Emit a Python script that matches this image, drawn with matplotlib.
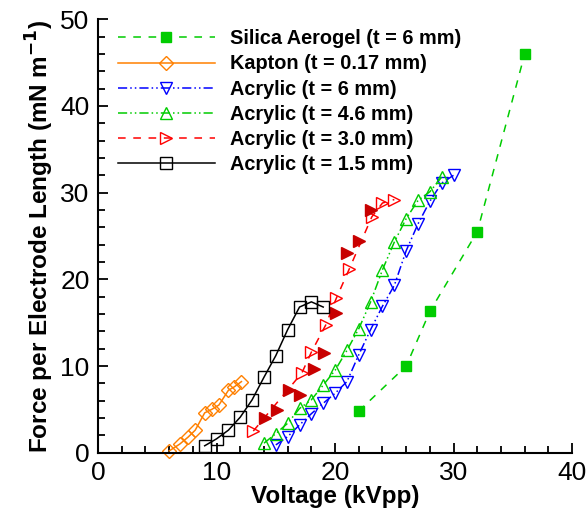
#!/usr/bin/env python3
"""
Force per electrode length vs. applied voltage for several dielectric barriers.
"""

import matplotlib
matplotlib.use('Agg')
import matplotlib.pyplot as plt
from matplotlib.ticker import MultipleLocator

plt.rcParams['font.family'] = ['Liberation Sans', 'DejaVu Sans']

# Silica aerogel (t = 6 mm)
silica_v = [22, 26, 28, 32, 36]
silica_f = [4.8, 10.0, 16.3, 25.5, 46.0]

# Kapton (t = 0.17 mm)
kapton_v = [6.0, 6.9, 7.6, 8.2, 9.0, 9.6, 10.2, 11.0, 11.5, 12.1]
kapton_f = [0.2, 1.0, 1.8, 2.6, 4.6, 5.0, 5.5, 7.2, 7.6, 8.2]

# Acrylic (t = 6 mm)
acr6_v = [15, 16, 17, 18, 19, 20, 21, 22, 23, 24, 25, 26, 27, 28, 29, 30]
acr6_f = [0.9, 1.85, 3.2, 4.5, 5.7, 6.85, 8.2, 11.3, 14.2, 16.9, 19.3, 23.3, 26.4, 29.0, 31.1, 32.0]

# Acrylic (t = 4.6 mm)
acr46_v = [14, 15, 16, 17, 18, 19, 20, 21, 22, 23, 24, 25, 26, 27, 28, 29]
acr46_f = [1.1, 2.2, 3.4, 5.1, 6.1, 7.8, 9.5, 11.8, 14.3, 17.4, 21.1, 24.3, 27.0, 29.1, 30.1, 31.8]

# Acrylic (t = 3.0 mm), open markers
acr3_v = [13.1, 17.2, 18.0, 19.2, 20.1, 21.2, 23.1, 24.0, 25.0]
acr3_f = [2.5, 9.2, 11.6, 14.7, 17.8, 21.2, 27.2, 28.8, 29.2]

# Acrylic (t = 3.0 mm), second run (filled markers, not in legend)
acr3b_v = [14.1, 15.1, 16.1, 17.0, 18.2, 19.1, 20.1, 21.0, 22.0, 23.0]
acr3b_f = [4.0, 4.9, 7.2, 6.6, 9.7, 11.5, 16.1, 23.0, 24.4, 28.0]

# Acrylic (t = 1.5 mm)
acr15_v = [9, 10, 11, 12, 13, 14, 15, 16, 17, 18, 19]
acr15_f = [0.8, 1.6, 2.6, 4.1, 6.1, 8.7, 11.2, 14.2, 16.8, 17.4, 16.8]

labels = ['Silica Aerogel (t = 6 mm)', 'Kapton (t = 0.17 mm)', 'Acrylic (t = 6 mm)',
          'Acrylic (t = 4.6 mm)', 'Acrylic (t = 3.0 mm)', 'Acrylic (t = 1.5 mm)']

green = '#00cc00'
orange = '#ff8000'
blue = '#0000ff'
red = '#ff0000'
dkred = '#c80000'
dashdotdot = (0, (6, 2, 1, 2, 1, 2))

fig = plt.figure(figsize=(5.88, 5.23), dpi=100)
ax = fig.add_axes([0.1667, 0.1344, 0.8063, 0.8289])

common = dict(clip_on=False, lw=1.1, mew=1.0)

ax.plot(silica_v, silica_f, ls=(0, (5, 5)), color=green, marker='s', ms=7,
        mfc=green, mec=green, label=labels[0], **common)
ax.plot(kapton_v, kapton_f, ls='-', color=orange, marker='D', ms=7,
        mfc='none', mec=orange, label=labels[1], **common)
ax.plot(acr6_v, acr6_f, ls=dashdotdot, color=blue, marker='v', ms=8.5,
        mfc='none', mec=blue, label=labels[2], **common)
ax.plot(acr46_v, acr46_f, ls=dashdotdot, color=green, marker='^', ms=8.5,
        mfc='none', mec=green, label=labels[3], **common)
ax.plot(acr3_v, acr3_f, ls=(0, (5, 5)), color=red, marker='>', ms=8.5,
        mfc='none', mec=red, label=labels[4], **common)
ax.plot(acr3b_v, acr3b_f, ls='none', color=dkred, marker='>', ms=8,
        mfc=dkred, mec=dkred, clip_on=False)
ax.plot(acr15_v, acr15_f, ls='-', color='black', marker='s', ms=8,
        mfc='none', mec='black', label=labels[5], **common)

ax.set_xlim(0, 40)
ax.set_ylim(0, 50)
ax.xaxis.set_major_locator(MultipleLocator(10))
ax.xaxis.set_minor_locator(MultipleLocator(2))
ax.yaxis.set_major_locator(MultipleLocator(10))
ax.yaxis.set_minor_locator(MultipleLocator(2))
ax.tick_params(which='both', direction='in', width=1.3, labelsize=19)
ax.tick_params(which='major', length=7, pad=6)
ax.tick_params(which='minor', length=5)

for side in ['top', 'right']:
    ax.spines[side].set_visible(False)
for side in ['left', 'bottom']:
    ax.spines[side].set_linewidth(1.5)

ax.set_xlabel('Voltage (kVpp)', fontsize=17.5, fontweight='bold', labelpad=0)
ax.set_ylabel('Force per Electrode Length (mN m$^{\\mathbf{-1}}$)', fontsize=17.5,
              fontweight='bold', labelpad=3)

leg = ax.legend(loc='upper left', bbox_to_anchor=(0.025, 0.995), frameon=False,
                handlelength=4.9, handletextpad=0.75, labelspacing=0.31,
                prop={'size': 14.3, 'weight': 'bold'}, borderaxespad=0.0)

plt.savefig('out.png', dpi=100)
plt.close()
